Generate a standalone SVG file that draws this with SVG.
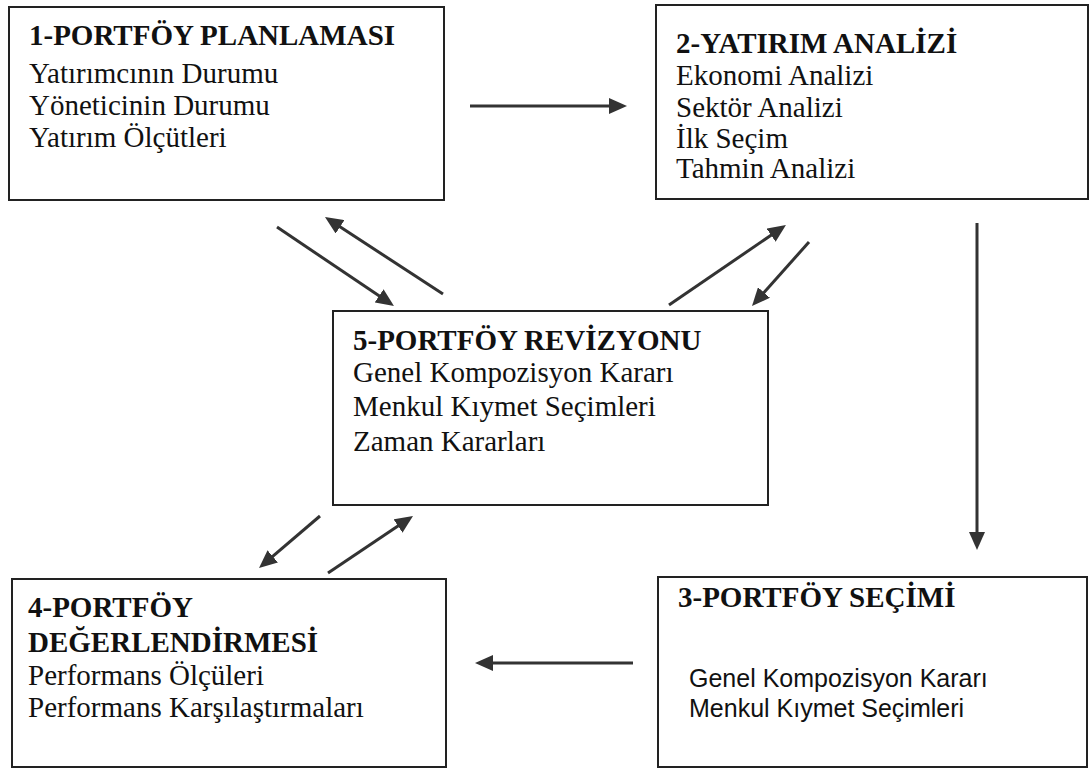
<svg xmlns="http://www.w3.org/2000/svg" width="1090" height="771" viewBox="0 0 1090 771">
<style>
.box{fill:#fff;stroke:#222;stroke-width:2}
.t{font-family:"Liberation Serif","Times New Roman",serif;font-size:29px;fill:#111}
.b{font-weight:bold}
.s{font-family:"Liberation Sans",Arial,sans-serif;font-size:25px;fill:#111}
.c{stroke:#333;stroke-width:3;fill:none;marker-end:url(#ah)}
</style>
<defs>
<marker id="ah" viewBox="0 0 18 16" refX="12" refY="8" markerWidth="18" markerHeight="16" markerUnits="userSpaceOnUse" orient="auto">
<path d="M0,0 L18,8 L0,16 z" fill="#333"/>
</marker>
</defs>
<rect width="1090" height="771" fill="#fff"/>
<g id="n1">
<rect class="box" x="9" y="7" width="435" height="193"/>
<text class="t b" x="29" y="45">1-PORTFÖY PLANLAMASI</text>
<text class="t" x="29" y="83">Yatırımcının Durumu</text>
<text class="t" x="29" y="115">Yöneticinin Durumu</text>
<text class="t" x="29" y="147">Yatırım Ölçütleri</text>
</g>
<g id="n2">
<rect class="box" x="656" y="5" width="432" height="194"/>
<text class="t b" x="676" y="53">2-YATIRIM ANALİZİ</text>
<text class="t" x="676" y="85">Ekonomi Analizi</text>
<text class="t" x="676" y="117">Sektör Analizi</text>
<text class="t" x="676" y="148">İlk Seçim</text>
<text class="t" x="676" y="178">Tahmin Analizi</text>
</g>
<g id="n5">
<rect class="box" x="333" y="311" width="435" height="194"/>
<text class="t b" x="353" y="350">5-PORTFÖY REVİZYONU</text>
<text class="t" x="353" y="382">Genel Kompozisyon Kararı</text>
<text class="t" x="353" y="416">Menkul Kıymet Seçimleri</text>
<text class="t" x="353" y="451">Zaman Kararları</text>
</g>
<g id="n4">
<rect class="box" x="12" y="579" width="434" height="188"/>
<text class="t b" x="28" y="617">4-PORTFÖY</text>
<text class="t b" x="28" y="652">DEĞERLENDİRMESİ</text>
<text class="t" x="28" y="685">Performans Ölçüleri</text>
<text class="t" x="28" y="717">Performans Karşılaştırmaları</text>
</g>
<g id="n3">
<rect class="box" x="658" y="577" width="429" height="190"/>
<text class="t b" x="678" y="607">3-PORTFÖY SEÇİMİ</text>
<text class="s" x="689" y="687">Genel Kompozisyon Kararı</text>
<text class="s" x="689" y="717">Menkul Kıymet Seçimleri</text>
</g>
<g id="connectors">
<line class="c" x1="470" y1="106" x2="621" y2="106"/>
<line class="c" x1="977" y1="223" x2="977" y2="544"/>
<line class="c" x1="633" y1="663" x2="481" y2="663"/>
<line class="c" x1="277" y1="227" x2="389" y2="302.6"/>
<line class="c" x1="443" y1="294" x2="330" y2="220.3"/>
<line class="c" x1="669" y1="305" x2="781" y2="228.4"/>
<line class="c" x1="809" y1="242" x2="756" y2="301.5"/>
<line class="c" x1="320" y1="516" x2="263.6" y2="564.1"/>
<line class="c" x1="328" y1="573" x2="408" y2="519.3"/>
</g>
</svg>
